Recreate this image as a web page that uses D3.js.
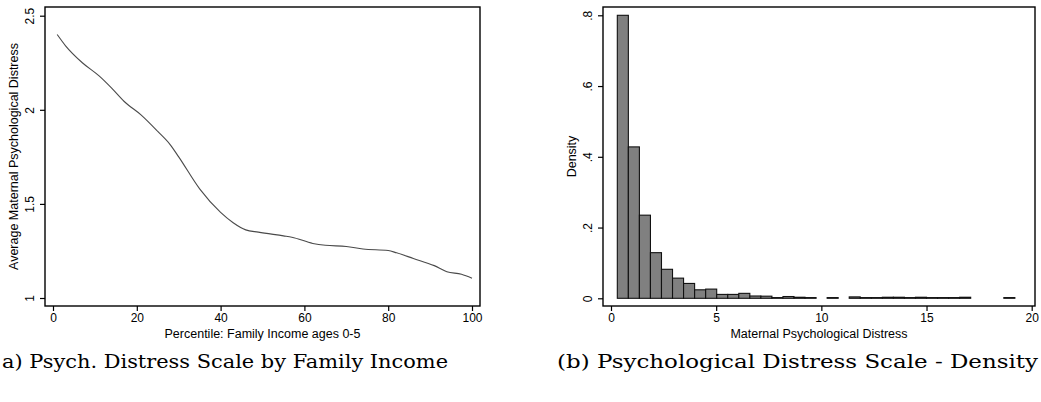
<!DOCTYPE html>
<html>
<head>
<meta charset="utf-8">
<script src="https://cdn.jsdelivr.net/npm/d3@7"></script>
<style>
    body { margin: 0; background: #fff; }
    svg { display: block; }
</style>
</head>
<body>
<div id="chart"></div>
<script>
/*global d3: false*/

// Panel (a): average distress by income percentile
var incomePercentile = [1, 3, 7, 11, 14, 17, 21, 25, 28, 30, 35, 40, 43, 46, 49, 55, 57, 62, 65, 70, 74, 80, 82, 86, 91, 94, 97.5, 100];
var avgDistress = [2.40, 2.34, 2.25, 2.18, 2.115, 2.044, 1.973, 1.885, 1.814, 1.75, 1.58, 1.455, 1.40, 1.362, 1.350, 1.33, 1.323, 1.29, 1.28, 1.274, 1.26, 1.252, 1.24, 1.21, 1.172, 1.14, 1.126, 1.105];
var incomeTicks = [0, 20, 40, 60, 80, 100];
var distressTicks = [1, 1.5, 2, 2.5];
var distressTickLabels = ['1', '1.5', '2', '2.5'];

// Panel (b): histogram of distress scale
var binStart = 0.3;
var binWidth = 0.525;
var densityValues = [0.80, 0.428, 0.235, 0.129, 0.082, 0.057, 0.042, 0.024, 0.026, 0.011,
    0.011, 0.014, 0.0065, 0.006, 0.002, 0.005, 0.003, 0.002, 0, 0.002,
    0, 0.004, 0.002, 0.002, 0.003, 0.003, 0.002, 0.003, 0.002, 0.002,
    0.002, 0.003, 0, 0, 0, 0.002];
var scaleTicks = [0, 5, 10, 15, 20];
var densityTicks = [0, 0.2, 0.4, 0.6, 0.8];
var densityTickLabels = ['0', '.2', '.4', '.6', '.8'];

var captions = ['a) Psych. Distress Scale by Family Income', '(b) Psychological Distress Scale - Density'];

var svg = d3.select('#chart').append('svg')
    .attr('width', 1041)
    .attr('height', 402);

var sansFont = '"Liberation Sans", Arial, Helvetica, sans-serif';

function styleAxis(g) {
    'use strict';
    g.select('.domain').remove();
    g.selectAll('.tick line')
        .attr('stroke', '#000')
        .attr('stroke-width', 1.2);
    g.selectAll('.tick text')
        .attr('fill', '#000')
        .attr('font-family', sansFont)
        .attr('font-size', 12);
}

function drawPanel(opts) {
    'use strict';
    var frame, x, y, gx, gy;

    frame = opts.frame;
    x = d3.scaleLinear().domain(opts.xDomain).range(opts.xRange);
    y = d3.scaleLinear().domain(opts.yDomain).range(opts.yRange);

    // x axis
    gx = svg.append('g')
        .attr('transform', 'translate(0,' + frame.bottom + ')')
        .call(d3.axisBottom(x).tickValues(opts.xTicks).tickSize(5).tickPadding(2)
            .tickFormat(d3.format('d')));
    styleAxis(gx);

    // y axis, labels rotated like Stata
    gy = svg.append('g')
        .attr('transform', 'translate(' + frame.left + ',0)')
        .call(d3.axisLeft(y).tickValues(opts.yTicks).tickSize(5)
            .tickFormat(function(d, i) { return opts.yTickLabels[i]; }));
    styleAxis(gy);
    gy.selectAll('.tick text')
        .attr('x', null)
        .attr('dy', null)
        .attr('text-anchor', 'middle')
        .attr('transform', 'translate(-11,0) rotate(-90)');

    // axis titles
    svg.append('text')
        .attr('x', (frame.left + frame.right) / 2)
        .attr('y', frame.bottom + 31.5)
        .attr('text-anchor', 'middle')
        .attr('font-family', sansFont)
        .attr('font-size', 12.5)
        .text(opts.xTitle);
    svg.append('text')
        .attr('transform', 'translate(' + (frame.left - 27) + ',' + ((frame.top + frame.bottom) / 2) + ') rotate(-90)')
        .attr('text-anchor', 'middle')
        .attr('font-family', sansFont)
        .attr('font-size', 12.5)
        .text(opts.yTitle);

    return {x: x, y: y};
}

function drawFrame(frame) {
    'use strict';
    svg.append('rect')
        .attr('x', frame.left)
        .attr('y', frame.top)
        .attr('width', frame.right - frame.left)
        .attr('height', frame.bottom - frame.top)
        .attr('fill', 'none')
        .attr('stroke', '#000')
        .attr('stroke-width', 1.4);
}

// ---- Panel (a)
var frameA = {left: 45, right: 480, top: 7, bottom: 306};
var scA = drawPanel({
    frame: frameA,
    xDomain: [0, 100], xRange: [53, 472],
    yDomain: [1, 2.5], yRange: [298, 15.7],
    xTicks: incomeTicks,
    yTicks: distressTicks, yTickLabels: distressTickLabels,
    xTitle: 'Percentile: Family Income ages 0-5',
    yTitle: 'Average Maternal Psychological Distress'
});

var lineA = d3.line()
    .x(function(d, i) { return scA.x(incomePercentile[i]); })
    .y(function(d) { return scA.y(d); })
    .curve(d3.curveMonotoneX);

svg.append('path')
    .datum(avgDistress)
    .attr('d', lineA)
    .attr('fill', 'none')
    .attr('stroke', '#4a4a4a')
    .attr('stroke-width', 1.1);

drawFrame(frameA);

// ---- Panel (b)
var frameB = {left: 603, right: 1035, top: 7, bottom: 306};
var scB = drawPanel({
    frame: frameB,
    xDomain: [0, 20], xRange: [611, 1031.7],
    yDomain: [0, 0.8], yRange: [298.3, 15.3],
    xTicks: scaleTicks,
    yTicks: densityTicks, yTickLabels: densityTickLabels,
    xTitle: 'Maternal Psychological Distress',
    yTitle: 'Density'
});

svg.append('g')
    .selectAll('rect')
    .data(densityValues.map(function(v, i) { return {i: i, v: v}; })
        .filter(function(d) { return d.v > 0; }))
    .enter().append('rect')
    .attr('x', function(d) { return scB.x(binStart + d.i * binWidth); })
    .attr('y', function(d) { return scB.y(d.v); })
    .attr('width', function(d) { return scB.x(binStart + (d.i + 1) * binWidth) - scB.x(binStart + d.i * binWidth); })
    .attr('height', function(d) { return scB.y(0) - scB.y(d.v); })
    .attr('fill', '#808080')
    .attr('stroke', '#111')
    .attr('stroke-width', 1.1);

drawFrame(frameB);

// ---- Captions
svg.append('text')
    .attr('x', 2)
    .attr('y', 368)
    .attr('font-family', '"DejaVu Serif", "Liberation Serif", serif')
    .attr('font-size', 18.5)
    .attr('textLength', 446)
    .attr('lengthAdjust', 'spacingAndGlyphs')
    .text(captions[0]);
svg.append('text')
    .attr('x', 557)
    .attr('y', 368)
    .attr('font-family', '"DejaVu Serif", "Liberation Serif", serif')
    .attr('font-size', 18.5)
    .attr('textLength', 481)
    .attr('lengthAdjust', 'spacingAndGlyphs')
    .text(captions[1]);
</script>
</body>
</html>
